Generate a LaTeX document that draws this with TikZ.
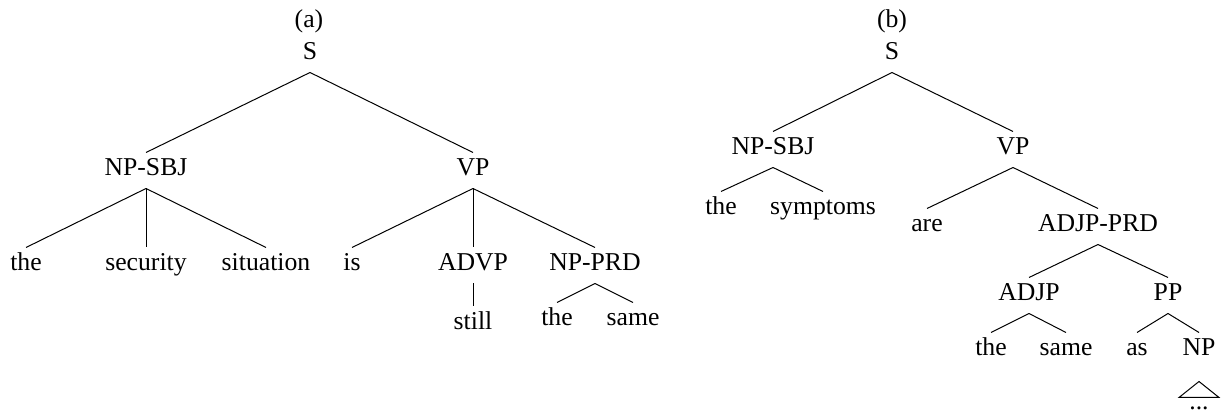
\documentclass[tikz,border=0pt]{standalone}
\usepackage{fontspec}
\setmainfont{Liberation Serif}
\usetikzlibrary{positioning}

\begin{document}
\begin{tikzpicture}[x=0.5pt, y=-0.5pt, line width=0.5pt,
        lbl/.style={anchor=base, inner sep=0pt, text height=11.5pt, text depth=6pt,
                    font=\fontsize{12.85}{15}\selectfont}]
            \useasboundingbox (0,0) rectangle (1221,416);

            % tree (a)
            \node[lbl] (capa) at (309, 28) {(a)};
            \node[lbl] (aS) at (310, 60) {S};
            \node[lbl] (anpsbj) at (146,176) {NP-SBJ};
            \node[lbl] (avp) at (473,176) {VP};
            \node[lbl] (athe) at ( 26,271) {the};
            \node[lbl] (asec) at (146,271) {security};
            \node[lbl] (asit) at (266,271) {situation};
            \node[lbl] (ais) at (352,271) {is};
            \node[lbl] (aadvp) at (473,271) {ADVP};
            \node[lbl] (anpprd) at (595,271) {NP-PRD};
            \node[lbl] (astill) at (473,330) {still};
            \node[lbl] (athetwo) at (557,326) {the};
            \node[lbl] (asame) at (633,326) {same};

            \draw (aS.south) -- (anpsbj.north);
            \draw (aS.south) -- (avp.north);
            \draw (anpsbj.south) -- (athe.north);
            \draw (anpsbj.south) -- (asec.north);
            \draw (anpsbj.south) -- (asit.north);
            \draw (avp.south) -- (ais.north);
            \draw (avp.south) -- (aadvp.north);
            \draw (avp.south) -- (anpprd.north);
            \draw (aadvp.south) -- (astill.north);
            \draw (anpprd.south) -- (athetwo.north);
            \draw (anpprd.south) -- (asame.north);

            % tree (b)
            \node[lbl] (capb) at (892, 28) {(b)};
            \node[lbl] (bS) at (892, 60) {S};
            \node[lbl] (bnpsbj) at (773,155) {NP-SBJ};
            \node[lbl] (bvp) at (1013,155) {VP};
            \node[lbl] (bthe) at (721,215) {the};
            \node[lbl] (bsym) at (823,215) {symptoms};
            \node[lbl] (bare) at (927,232) {are};
            \node[lbl] (badjprd) at (1098,232) {ADJP-PRD};
            \node[lbl] (badjp) at (1029,301) {ADJP};
            \node[lbl] (bpp) at (1168,301) {PP};
            \node[lbl] (bthetwo) at (991,356) {the};
            \node[lbl] (bsame) at (1066,356) {same};
            \node[lbl] (bas) at (1137,356) {as};
            \node[lbl] (bnp) at (1199,356) {NP};
            \node[lbl] (bdots) at (1199,410) {...};

            \draw (bS.south) -- (bnpsbj.north);
            \draw (bS.south) -- (bvp.north);
            \draw (bnpsbj.south) -- (bthe.north);
            \draw (bnpsbj.south) -- (bsym.north);
            \draw (bvp.south) -- (bare.north);
            \draw (bvp.south) -- (badjprd.north);
            \draw (badjprd.south) -- (badjp.north);
            \draw (badjprd.south) -- (bpp.north);
            \draw (badjp.south) -- (bthetwo.north);
            \draw (badjp.south) -- (bsame.north);
            \draw (bpp.south) -- (bas.north);
            \draw (bpp.south) -- (bnp.north);
            % roof over the elided NP
            \draw ([yshift=-6.5pt]bnp.south) -- ([shift={(-10pt,-14.5pt)}]bnp.south)
                -- ([shift={(10pt,-14.5pt)}]bnp.south) -- cycle;
        \end{tikzpicture}
\end{document}
